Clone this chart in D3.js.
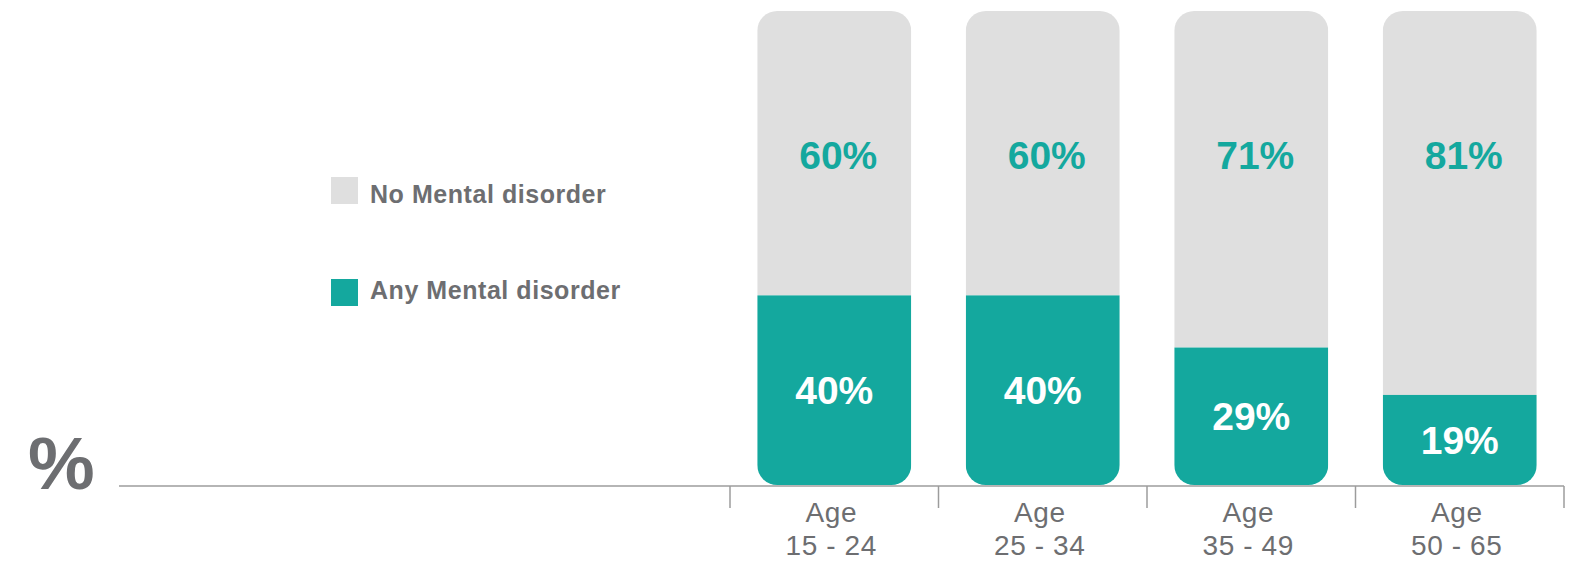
<!DOCTYPE html>
<html>
<head>
<meta charset="utf-8">
<script src="https://cdn.jsdelivr.net/npm/d3@7"></script>
<style>
  html, body { margin: 0; padding: 0; background: #ffffff; }
  svg { display: block; font-family: "Liberation Sans", Arial, Helvetica, sans-serif; }
</style>
</head>
<body>
<svg id="chart" width="1581" height="562"></svg>
<script>
// Share of people with / without a mental disorder, by age group
const ageGroups = ["15 - 24", "25 - 34", "35 - 49", "50 - 65"];
const anyDisorder = [40, 40, 29, 19];
const noDisorder = [60, 60, 71, 81];
const seriesNames = ["No Mental disorder", "Any Mental disorder"];

const TEAL = "#14a89e";
const GREY = "#dfdfdf";
const TEXT = "#6d6e71";
const AXIS = "#9c9c9c";

const svg = d3.select("#chart");

const x = d3.scaleBand()
  .domain(ageGroups)
  .range([730, 1564])
  .paddingInner(0.2614)
  .paddingOuter(0.1307);

const y = d3.scaleLinear().domain([0, 100]).range([485, 11]);
const radius = 20;

const rows = ageGroups.map((g, i) => ({ group: g, any: anyDisorder[i], none: noDisorder[i] }));

// rounded clip for each stacked column
const defs = svg.append("defs");
rows.forEach((d, i) => {
  defs.append("clipPath").attr("id", "clip" + i)
    .append("rect")
    .attr("x", x(d.group))
    .attr("y", y(d.any + d.none))
    .attr("width", x.bandwidth())
    .attr("height", y(0) - y(d.any + d.none))
    .attr("rx", radius).attr("ry", radius);
});

const cols = svg.append("g").selectAll("g").data(rows).join("g")
  .attr("clip-path", (d, i) => `url(#clip${i})`);

cols.append("rect")
  .attr("x", d => x(d.group))
  .attr("y", d => y(d.any + d.none))
  .attr("width", x.bandwidth())
  .attr("height", d => y(d.any) - y(d.any + d.none))
  .attr("fill", GREY);

cols.append("rect")
  .attr("x", d => x(d.group))
  .attr("y", d => y(d.any))
  .attr("width", x.bandwidth())
  .attr("height", d => y(0) - y(d.any))
  .attr("fill", TEAL);

// value labels
const labels = svg.append("g").attr("font-weight", "bold").attr("font-size", 39).attr("text-anchor", "middle");

labels.selectAll("text.none").data(rows).join("text")
  .attr("class", "none")
  .attr("x", d => x(d.group) + x.bandwidth() / 2 + 4)
  .attr("y", 169)
  .attr("fill", TEAL)
  .text(d => d.none + "%");

labels.selectAll("text.any").data(rows).join("text")
  .attr("class", "any")
  .attr("x", d => x(d.group) + x.bandwidth() / 2)
  .attr("y", d => (y(d.any) + y(0)) / 2 + 14)
  .attr("fill", "#ffffff")
  .text(d => d.any + "%");

// baseline and category separators
const axis = svg.append("g");
axis.append("line")
  .attr("x1", 119).attr("x2", x.range()[1])
  .attr("y1", 486).attr("y2", 486)
  .attr("stroke", AXIS).attr("stroke-width", 1.5);

const bounds = ageGroups.map(g => x(g) - x.step() * x.paddingOuter()).concat([x.range()[1]]);
axis.selectAll("line.tick").data(bounds).join("line")
  .attr("class", "tick")
  .attr("x1", d => d).attr("x2", d => d)
  .attr("y1", 486).attr("y2", 508)
  .attr("stroke", AXIS).attr("stroke-width", 1.5);

const tickText = axis.selectAll("text").data(ageGroups).join("text")
  .attr("text-anchor", "middle")
  .attr("font-size", 28)
  .attr("letter-spacing", 0.6)
  .attr("fill", TEXT)
  .attr("x", d => x(d) + x.bandwidth() / 2 - 3);
tickText.append("tspan").attr("x", d => x(d) + x.bandwidth() / 2 - 3).attr("y", 522).text("Age");
tickText.append("tspan").attr("x", d => x(d) + x.bandwidth() / 2 - 3).attr("y", 555).text(d => d);

// unit marker
svg.append("text")
  .attr("x", 28).attr("y", 489)
  .attr("font-size", 75).attr("font-weight", "bold")
  .attr("fill", TEXT)
  .text("%");

// legend
const legendColors = [GREY, TEAL];
const legendBoxY = [177, 279];
const legendTextY = [203, 299];
const legend = svg.append("g");
legend.selectAll("rect").data(seriesNames).join("rect")
  .attr("x", 331).attr("y", (d, i) => legendBoxY[i])
  .attr("width", 27).attr("height", 27)
  .attr("fill", (d, i) => legendColors[i]);
legend.selectAll("text").data(seriesNames).join("text")
  .attr("x", 370).attr("y", (d, i) => legendTextY[i])
  .attr("font-size", 25).attr("font-weight", "bold")
  .attr("letter-spacing", 0.55)
  .attr("fill", TEXT)
  .text(d => d);
</script>
</body>
</html>
